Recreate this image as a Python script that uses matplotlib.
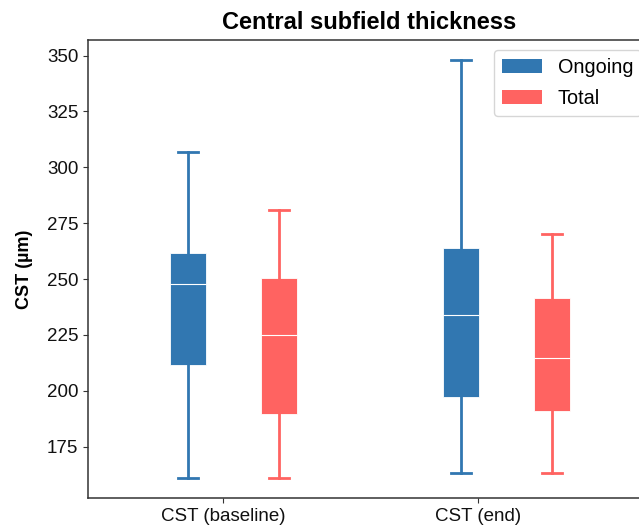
import matplotlib
matplotlib.use("Agg")
import matplotlib.pyplot as plt
from matplotlib.patches import Patch

plt.rcParams['font.family'] = ['Liberation Sans', 'DejaVu Sans']

categories = ["CST (baseline)", "CST (end)"]
series = ["Ongoing", "Total"]
colors = ["#3177b1", "#ff6361"]

# five-number summaries: [whislo, q1, median, q3, whishi]
ongoing = [[161, 211.5, 248, 261.5, 307], [163, 197, 234, 264, 348]]
total = [[161, 189.5, 225, 250.5, 281], [163, 191, 214.5, 241.5, 270]]

fig = plt.figure(figsize=(6.39, 5.29), dpi=100)
W, H = 639, 529
ax = fig.add_axes([88 / W, (H - 498) / H, (651 - 88) / W, (498 - 40) / H])

def stats(vals, label):
    lo, q1, med, q3, hi = vals
    return dict(whislo=lo, q1=q1, med=med, q3=q3, whishi=hi, fliers=[], label=label)

group_pos = [1, 4]
offsets = [0, 1]
for si, (data, col) in enumerate(zip([ongoing, total], colors)):
    st = [stats(v, c) for v, c in zip(data, categories)]
    pos = [g + offsets[si] for g in group_pos]
    ax.bxp(st, positions=pos, widths=0.4, capwidths=0.23, patch_artist=True,
           showfliers=False, manage_ticks=False,
           boxprops=dict(facecolor=col, edgecolor='white', linewidth=0.6),
           whiskerprops=dict(color=col, linewidth=2),
           capprops=dict(color=col, linewidth=2),
           medianprops=dict(color='white', linewidth=0.8))

ax.set_xlim(-0.099, 6.088)
ax.set_ylim(152, 357)
ax.set_xticks([1.385, 4.19])
ax.set_xticklabels(categories, fontsize=13.5)
ax.set_yticks([175, 200, 225, 250, 275, 300, 325, 350])
ax.tick_params(axis='y', labelsize=13.5)
for s in ax.spines.values():
    s.set_color('#333333')
    s.set_linewidth(1.1)
ax.tick_params(colors='#333333', labelcolor='#111111')

ax.set_ylabel("CST (µm)", fontsize=13, fontweight='bold', labelpad=10)
ax.set_title("Central subfield thickness", fontsize=17, fontweight='bold', pad=8)

handles = [Patch(facecolor=c, edgecolor='none', label=s) for c, s in zip(colors, series)]
ax.legend(handles=handles, loc='upper right', fontsize=14.3, frameon=True,
          edgecolor='#cccccc', labelspacing=0.62, bbox_to_anchor=(1.0, 1.0),
          borderaxespad=0.5)

fig.savefig("out.png", dpi=100)
